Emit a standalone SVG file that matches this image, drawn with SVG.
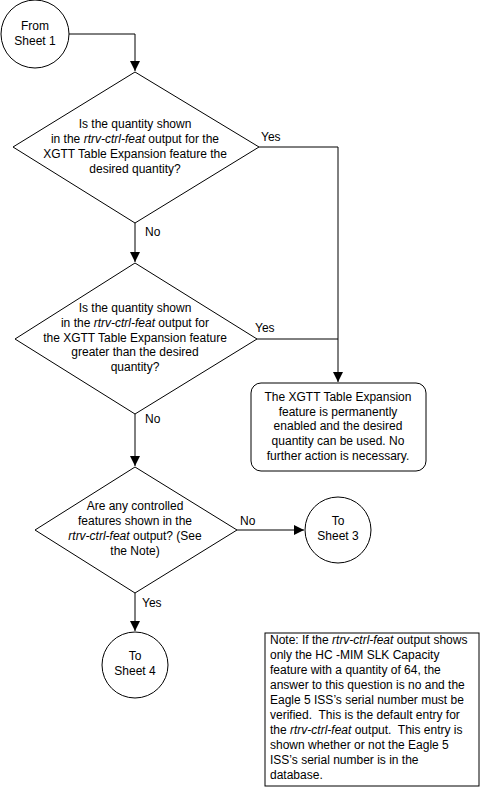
<svg xmlns="http://www.w3.org/2000/svg" width="480" height="787" viewBox="0 0 480 787">
<style>
.s{fill:#fff;stroke:#000;stroke-width:1}
.c{fill:none;stroke:#000;stroke-width:1}
text{font-family:"Liberation Sans",Arial,sans-serif;font-size:12px;fill:#000}
.m{text-anchor:middle}
.i{font-style:italic}
</style>
<defs>
<marker id="a" markerWidth="10" markerHeight="10" refX="10" refY="5" orient="auto" markerUnits="userSpaceOnUse">
<path d="M0,0 L10,5 L0,10 Z" fill="#000"/>
</marker>
</defs>
<g id="connectors">
<path class="c" d="M69,34 H135 V71" marker-end="url(#a)"/>
<path class="c" d="M135,223 V262" marker-end="url(#a)"/>
<path class="c" d="M259,147 H338 V382" marker-end="url(#a)"/>
<path class="c" d="M257,339 H338"/>
<path class="c" d="M135,414 V466" marker-end="url(#a)"/>
<path class="c" d="M237,530 H304" marker-end="url(#a)"/>
<path class="c" d="M135,593 V631" marker-end="url(#a)"/>
<text x="261" y="141">Yes</text>
<text x="145" y="236">No</text>
<text x="255" y="332">Yes</text>
<text x="145" y="423">No</text>
<text x="240" y="525">No</text>
<text x="142" y="607">Yes</text>
</g>
<g id="from1">
<circle class="s" cx="35" cy="34" r="34"/>
<text class="m" x="35" y="30">From</text>
<text class="m" x="35" y="45">Sheet 1</text>
</g>
<g id="d1">
<polygon class="s" points="135,72 259,147 135,223 13,147"/>
<text class="m" x="135" y="128">Is the quantity shown</text>
<text class="m" x="135" y="143">in the <tspan class="i">rtrv-ctrl-feat</tspan> output for the</text>
<text class="m" x="135" y="158">XGTT Table Expansion feature the</text>
<text class="m" x="135" y="173">desired quantity?</text>
</g>
<g id="d2">
<polygon class="s" points="135,263 257,339 135,414 15,339"/>
<text class="m" x="135" y="312">Is the quantity shown</text>
<text class="m" x="135" y="327">in the <tspan class="i">rtrv-ctrl-feat</tspan> output for</text>
<text class="m" x="135" y="342">the XGTT Table Expansion feature</text>
<text class="m" x="135" y="356">greater than the desired</text>
<text class="m" x="135" y="371">quantity?</text>
</g>
<g id="done">
<rect class="s" x="251" y="383" width="175" height="88" rx="10"/>
<text class="m" x="338" y="401">The XGTT Table Expansion</text>
<text class="m" x="338" y="416">feature is permanently</text>
<text class="m" x="338" y="430">enabled and the desired</text>
<text class="m" x="338" y="445">quantity can be used. No</text>
<text class="m" x="338" y="460">further action is necessary.</text>
</g>
<g id="d3">
<polygon class="s" points="135,467 237,530 135,593 35,530"/>
<text class="m" x="135" y="510">Are any controlled</text>
<text class="m" x="135" y="525">features shown in the</text>
<text class="m" x="135" y="540"><tspan class="i">rtrv-ctrl-feat</tspan> output? (See</text>
<text class="m" x="135" y="555">the Note)</text>
</g>
<g id="to3">
<circle class="s" cx="338" cy="530" r="33"/>
<text class="m" x="338" y="525">To</text>
<text class="m" x="338" y="540">Sheet 3</text>
</g>
<g id="to4">
<circle class="s" cx="135" cy="665" r="33"/>
<text class="m" x="135" y="660">To</text>
<text class="m" x="135" y="675">Sheet 4</text>
</g>
<g id="note">
<rect class="s" x="265" y="633" width="214" height="153"/>
<text x="270" y="644">Note: If the <tspan class="i">rtrv-ctrl-feat</tspan> output shows</text>
<text x="270" y="659">only the HC -MIM SLK Capacity</text>
<text x="270" y="674">feature with a quantity of 64, the</text>
<text x="270" y="689">answer to this question is no and the</text>
<text x="270" y="704">Eagle 5 ISS’s serial number must be</text>
<text x="270" y="719" xml:space="preserve">verified.  This is the default entry for</text>
<text x="270" y="734" xml:space="preserve">the <tspan class="i">rtrv-ctrl-feat</tspan> output.  This entry is</text>
<text x="270" y="749">shown whether or not the Eagle 5</text>
<text x="270" y="764">ISS’s serial number is in the</text>
<text x="270" y="779">database.</text>
</g>
</svg>
